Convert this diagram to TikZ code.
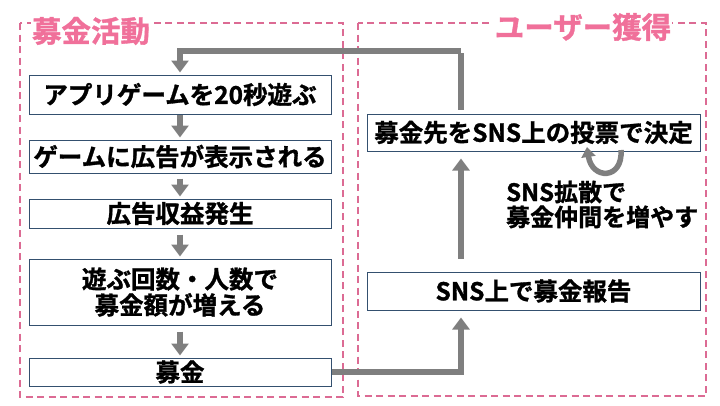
\documentclass[tikz,border=0pt]{standalone}
\usepackage{fontspec}
\setmainfont{Noto Sans CJK JP}[UprightFont={Noto Sans CJK JP Bold}, UprightFeatures={FakeBold=1.2}]
\usetikzlibrary{arrows.meta}
\definecolor{pinkt}{HTML}{F0709A}
\definecolor{pinkd}{HTML}{DC6B94}
\definecolor{navy}{HTML}{34506F}
\definecolor{arrg}{HTML}{7F7F7F}
\tikzset{
  grp/.style={draw=pinkd, line width=1.8pt, dash pattern=on 7pt off 4.5pt},
  grptitle/.style={fill=white, inner sep=1pt, text=pinkt, font=\fontsize{29.5}{31}\selectfont},
  box/.style={draw=navy, line width=1pt, fill=white, align=center, inner sep=0pt,
    font=\fontsize{24.5}{26}\selectfont},
  lbox/.style={box, minimum width=302pt},
  rbox/.style={box, minimum width=333pt},
  arr/.style={draw=arrg, line width=6pt, -{Triangle[length=12pt,width=17pt]}},
  note/.style={align=left, inner sep=0pt, font=\fontsize{24}{25}\selectfont}
}
\begin{document}
\begin{tikzpicture}[x=1pt,y=-1pt]
\useasboundingbox (0,0) rectangle (720,405);
% groups
\draw[grp] (20,23) rectangle (343,397);
\draw[grp] (358,23) rectangle (706,396);
\node[grptitle] (t1) at (91,31) {募金活動};
\node[grptitle] (t2) at (583,27) {ユーザー獲得};
% left boxes
\node[lbox, minimum height=39pt] (b1) at (180,94.5) {アプリゲームを20秒遊ぶ};
\node[lbox, minimum height=33pt] (b2) at (180,156.5) {ゲームに広告が表示される};
\node[lbox, minimum height=29pt] (b3) at (180,213.5) {広告収益発生};
\node[lbox, minimum height=66pt] (b4) at (180,292) {遊ぶ回数・人数で\\募金額が増える};
\node[lbox, minimum height=28pt] (b5) at (180,372) {募金};
% right boxes
\node[rbox, minimum height=37pt] (r1) at (533.5,132.5) {募金先をSNS上の投票で決定};
\node[rbox, minimum height=38pt] (r2) at (533.5,291) {SNS上で募金報告};
\node[note, anchor=west] (n1) at (506,204.5) {SNS拡散で\\募金仲間を増やす};
% coordinates
\coordinate (top) at (461,51);
\coordinate (cs) at (621,150);
\coordinate (ce) at (587,147);
% arrows
\draw[arr, shorten >=2pt] (b1) -- (b2);
\draw[arr, shorten >=2pt, shorten <=5pt] (b2) -- (b3);
\draw[arr, shorten >=2pt, shorten <=6pt] (b3) -- (b4);
\draw[arr, shorten >=2pt, shorten <=6pt] (b4) -- (b5);
\draw[arr, shorten >=7pt] (b5.east) -| (r2.south -| top);
\draw[arr, shorten >=7pt, shorten <=13pt] (r2.north -| top) -- (r1.south -| top);
\draw[arr, shorten >=2pt, shorten <=4pt, -] (r1.north -| top) -- (top);
\draw[arr, shorten >=2pt] (top) -| (b1.north);
\draw[draw=arrg, line width=5.5pt, -{Triangle[length=10pt,width=14pt]}]
  (cs) .. controls (623,180) and (592,180) .. (ce);
\end{tikzpicture}
\end{document}
